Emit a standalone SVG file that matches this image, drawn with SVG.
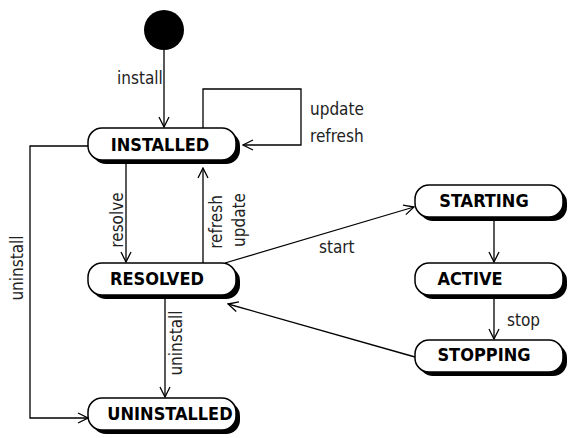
<svg xmlns="http://www.w3.org/2000/svg" width="581" height="438" viewBox="0 0 581 438">
<defs>
<marker id="arr" viewBox="0 0 12 12" refX="11" refY="6" markerWidth="12" markerHeight="12" markerUnits="userSpaceOnUse" orient="auto">
<path d="M1,1 L11,6 L1,11" fill="none" stroke="#000" stroke-width="1.3"/>
</marker>
</defs>
<style>
.box{fill:#fff;stroke:#000;stroke-width:1.5}
.sh{fill:#000}
.nt{font-family:"DejaVu Sans Condensed","DejaVu Sans",sans-serif;font-weight:bold;font-size:18px;text-anchor:middle}
.lb{font-family:"DejaVu Sans Condensed","DejaVu Sans",sans-serif;font-size:17px;fill:#222}
.ln{fill:none;stroke:#000;stroke-width:1.3}
</style>
<rect width="581" height="438" fill="#fff"/>
<g id="initial"><circle cx="164" cy="30" r="20" fill="#000"/></g>
<g id="installed">
<rect class="sh" x="92" y="132" width="148" height="32" rx="14"/>
<rect class="box" x="88" y="128" width="148" height="32" rx="14"/>
<text class="nt" x="160" y="151">INSTALLED</text>
</g>
<g id="resolved">
<rect class="sh" x="92" y="267" width="148" height="32" rx="14"/>
<rect class="box" x="88" y="263" width="148" height="32" rx="14"/>
<text class="nt" x="157" y="285">RESOLVED</text>
</g>
<g id="uninstalled">
<rect class="sh" x="92" y="402" width="148" height="32" rx="14"/>
<rect class="box" x="88" y="398" width="148" height="32" rx="14"/>
<text class="nt" x="170" y="420">UNINSTALLED</text>
</g>
<g id="starting">
<rect class="sh" x="419" y="189" width="148" height="32" rx="14"/>
<rect class="box" x="415" y="185" width="148" height="32" rx="14"/>
<text class="nt" x="484" y="207">STARTING</text>
</g>
<g id="active">
<rect class="sh" x="419" y="267" width="148" height="32" rx="14"/>
<rect class="box" x="415" y="263" width="148" height="32" rx="14"/>
<text class="nt" x="470" y="285">ACTIVE</text>
</g>
<g id="stopping">
<rect class="sh" x="419" y="344" width="148" height="32" rx="14"/>
<rect class="box" x="415" y="340" width="148" height="32" rx="14"/>
<text class="nt" x="484" y="361">STOPPING</text>
</g>
<g id="connectors">
<path class="ln" d="M164,50 L164,127" marker-end="url(#arr)"/>
<path class="ln" d="M203,128 L203,89 L301,89 L301,145 L243,145" marker-end="url(#arr)"/>
<path class="ln" d="M88,146 L30,146 L30,418 L88,418" marker-end="url(#arr)"/>
<path class="ln" d="M126,160 L126,262" marker-end="url(#arr)"/>
<path class="ln" d="M203,263 L203,168" marker-end="url(#arr)"/>
<path class="ln" d="M165,295 L165,397" marker-end="url(#arr)"/>
<path class="ln" d="M225,263 L414,207" marker-end="url(#arr)"/>
<path class="ln" d="M494,217 L494,262" marker-end="url(#arr)"/>
<path class="ln" d="M494,295 L494,339" marker-end="url(#arr)"/>
<path class="ln" d="M415,357 L228,304" marker-end="url(#arr)"/>
</g>
<g id="labels">
<text class="lb" x="117" y="84">install</text>
<text class="lb" x="310" y="115">update</text>
<text class="lb" x="310" y="142">refresh</text>
<text class="lb" transform="translate(23,268) rotate(-90)" text-anchor="middle">uninstall</text>
<text class="lb" transform="translate(123,220) rotate(-90)" text-anchor="middle">resolve</text>
<text class="lb" transform="translate(222,222) rotate(-90)" text-anchor="middle">refresh</text>
<text class="lb" transform="translate(245,220) rotate(-90)" text-anchor="middle">update</text>
<text class="lb" transform="translate(182,343) rotate(-90)" text-anchor="middle">uninstall</text>
<text class="lb" x="319" y="253">start</text>
<text class="lb" x="507" y="326">stop</text>
</g>
</svg>
